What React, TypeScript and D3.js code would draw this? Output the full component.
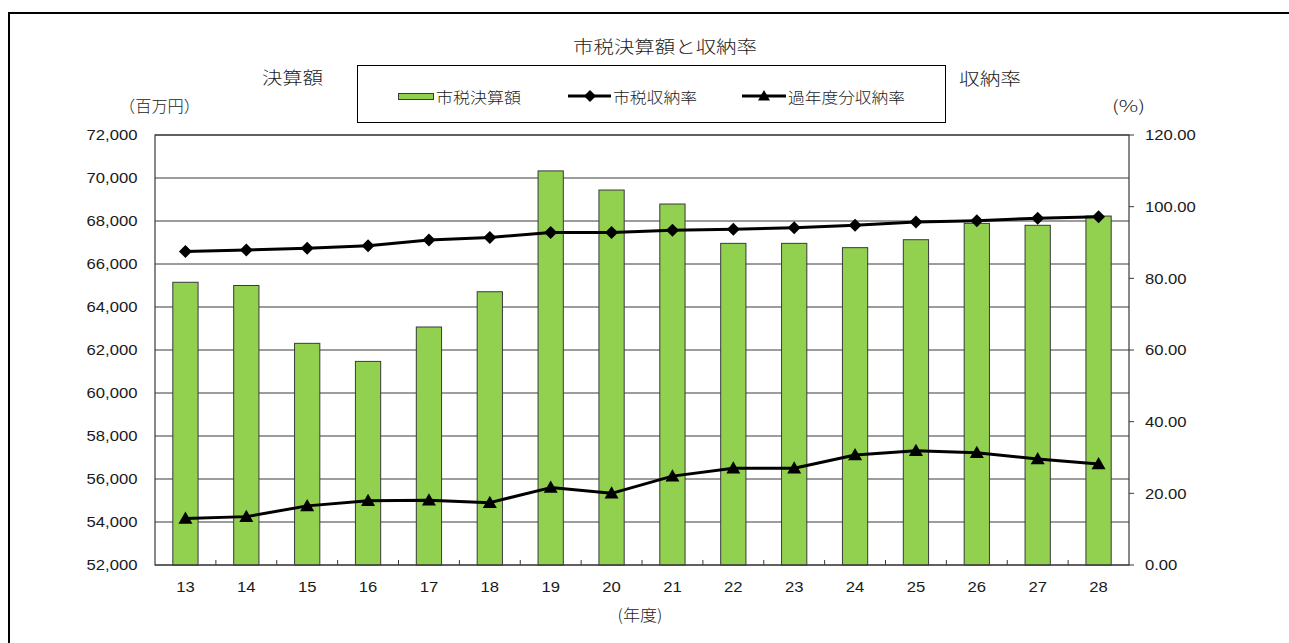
import React from 'react';
import * as d3 from 'd3';

// Fiscal years (Heisei)
const years = ['13', '14', '15', '16', '17', '18', '19', '20', '21', '22', '23', '24', '25', '26', '27', '28'];
// 市税決算額 (million yen)
const settlementAmount = [65150, 65000, 62310, 61470, 63070, 64710, 70330, 69440, 68790, 66960, 66960, 66760, 67130, 67890, 67800, 68230];
// 市税収納率 (%)
const taxCollectionRate = [87.5, 87.9, 88.4, 89.1, 90.7, 91.4, 92.8, 92.8, 93.4, 93.7, 94.1, 94.8, 95.7, 96.1, 96.8, 97.2];
// 過年度分収納率 (%)
const arrearsCollectionRate = [13.0, 13.5, 16.5, 17.9, 18.1, 17.4, 21.6, 20.0, 24.8, 27.0, 27.0, 30.7, 31.9, 31.3, 29.6, 28.2];

const leftTicks = [52000, 54000, 56000, 58000, 60000, 62000, 64000, 66000, 68000, 70000, 72000];
const rightTicks = [0, 20, 40, 60, 80, 100, 120];

const W = 1289;
const H = 643;
const P = { left: 155, right: 1129, top: 135, bottom: 565 };

const JP = "'Noto Sans CJK JP', 'Noto Sans', sans-serif";
const NUM = "'Liberation Sans', Arial, sans-serif";
const TXT = '#1a1a1a';
const GRID = '#3a3a3a';
const BAR = '#92D050';
const NUM_STRETCH = 1.11;

function JText(props: { x: number; y: number; text: string; size: number; len: number; anchor?: string }) {
  const { x, y, text, size, len, anchor = 'start' } = props;
  return (
    <text
      x={x}
      y={y}
      fontFamily={JP}
      fontSize={size}
      fontWeight={300}
      fill={TXT}
      textAnchor={anchor}
      dominantBaseline="central"
      textLength={len}
      lengthAdjust="spacingAndGlyphs"
    >
      {text}
    </text>
  );
}

function NText(props: { x: number; y: number; text: string; anchor: string }) {
  const { x, y, text, anchor } = props;
  return (
    <text
      transform={`translate(${x},${y}) scale(${NUM_STRETCH},1)`}
      fontFamily={NUM}
      fontSize={15}
      fill={TXT}
      textAnchor={anchor}
      dominantBaseline="central"
    >
      {text}
    </text>
  );
}

const diamond = (cx: number, cy: number, r: number) =>
  `M${cx},${cy - r}L${cx + r},${cy}L${cx},${cy + r}L${cx - r},${cy}Z`;
const triangle = (cx: number, cy: number, r: number) =>
  `M${cx},${cy - r}L${cx + r},${cy + r * 0.75}L${cx - r},${cy + r * 0.75}Z`;

export default function App() {
  const x = d3.scaleBand<string>().domain(years).range([P.left, P.right]).padding(0);
  const bw = x.bandwidth();
  const barW = bw * 0.415;
  const cx = (yr: string) => (x(yr) as number) + bw / 2;

  const yL = d3.scaleLinear().domain([52000, 72000]).range([P.bottom, P.top]);
  const yR = d3.scaleLinear().domain([0, 120]).range([P.bottom, P.top]);

  const fmtL = d3.format(',');
  const fmtR = d3.format('.2f');

  const lineRate = d3
    .line<number>()
    .x((_, i) => cx(years[i]))
    .y((d) => yR(d));

  return (
    <svg
      width={W}
      height={H}
      viewBox={`0 0 ${W} ${H}`}
      style={{ position: 'absolute', left: 0, top: 0, display: 'block', background: '#fff' }}
    >
      <rect x={0} y={0} width={W} height={H} fill="#fff" />
      {/* outer frame */}
      <rect x={9} y={13} width={W + 20} height={H + 20} fill="none" stroke="#000" strokeWidth={2} />

      {/* title and axis captions */}
      <JText x={665} y={45} text="市税決算額と収納率" size={17} len={184} anchor="middle" />
      <JText x={262} y={76} text="決算額" size={17} len={61} />
      <JText x={119} y={105} text="（百万円）" size={16} len={81} />
      <JText x={959} y={77} text="収納率" size={17} len={62} />
      <JText x={1112} y={105} text="(%)" size={16} len={33} />
      <JText x={640} y={614} text="(年度)" size={16} len={45} anchor="middle" />

      {/* legend */}
      <rect x={357.5} y={65.5} width={588} height={57} fill="#fff" stroke="#000" strokeWidth={1} />
      <rect x={398.5} y={93.5} width={35} height={6} fill={BAR} stroke={GRID} strokeWidth={1} />
      <JText x={436} y={96} text="市税決算額" size={15} len={85} />
      <line x1={568} x2={611} y1={96} y2={96} stroke="#000" strokeWidth={3} />
      <path d={diamond(590, 96, 6)} fill="#000" />
      <JText x={613} y={96} text="市税収納率" size={15} len={84} />
      <line x1={742} x2={786} y1={96} y2={96} stroke="#000" strokeWidth={3} />
      <path d={triangle(764, 96, 6)} fill="#000" />
      <JText x={788} y={96} text="過年度分収納率" size={15} len={117} />

      {/* gridlines */}
      {leftTicks.map((t) => (
        <line key={t} x1={P.left} x2={P.right} y1={yL(t)} y2={yL(t)} stroke={GRID} strokeWidth={1} />
      ))}

      {/* bars */}
      {settlementAmount.map((v, i) => (
        <rect
          key={years[i]}
          x={cx(years[i]) - barW / 2}
          y={yL(v)}
          width={barW}
          height={yL(52000) - yL(v)}
          fill={BAR}
          stroke={GRID}
          strokeWidth={1}
        />
      ))}

      {/* plot frame */}
      <rect x={P.left} y={P.top} width={P.right - P.left} height={P.bottom - P.top} fill="none" stroke={GRID} strokeWidth={1.2} />

      {/* category ticks (inside) */}
      {years.slice(1).map((yr) => (
        <line key={yr} x1={x(yr) as number} x2={x(yr) as number} y1={P.bottom} y2={P.bottom - 5} stroke={GRID} strokeWidth={1} />
      ))}

      {/* right axis ticks (outside) */}
      {rightTicks.map((t) => (
        <line key={t} x1={P.right} x2={P.right + 5} y1={yR(t)} y2={yR(t)} stroke={GRID} strokeWidth={1} />
      ))}

      {/* collection rate lines */}
      <path d={lineRate(taxCollectionRate) || ''} fill="none" stroke="#000" strokeWidth={3} strokeLinejoin="round" />
      {taxCollectionRate.map((v, i) => (
        <path key={years[i]} d={diamond(cx(years[i]), yR(v), 6.5)} fill="#000" />
      ))}
      <path d={lineRate(arrearsCollectionRate) || ''} fill="none" stroke="#000" strokeWidth={3} strokeLinejoin="round" />
      {arrearsCollectionRate.map((v, i) => (
        <path key={years[i]} d={triangle(cx(years[i]), yR(v), 7)} fill="#000" />
      ))}

      {/* axis labels */}
      {leftTicks.map((t) => (
        <NText key={t} x={137.5} y={yL(t)} text={fmtL(t)} anchor="end" />
      ))}
      {rightTicks.map((t) => (
        <NText key={t} x={1145} y={yR(t)} text={fmtR(t)} anchor="start" />
      ))}
      {years.map((yr) => (
        <NText key={yr} x={cx(yr)} y={587} text={yr} anchor="middle" />
      ))}
    </svg>
  );
}
